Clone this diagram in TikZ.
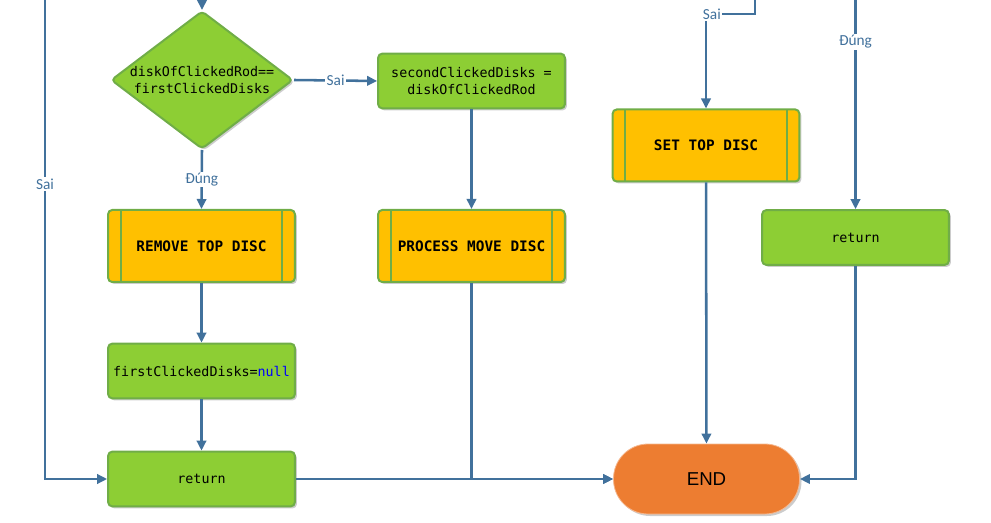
\documentclass[tikz,border=0pt]{standalone}
\usepackage{fontspec}
\setmonofont{DejaVu Sans Mono}
\newfontfamily\lblfont{Carlito}
\newfontfamily\termfont{Liberation Sans}
\usepackage{tikz}
\usetikzlibrary{shapes.geometric}
\usetikzlibrary{shadows}
\usetikzlibrary{arrows.meta}
\definecolor{boxgreen}{RGB}{141,206,52}
\definecolor{edgegreen}{RGB}{112,173,71}
\definecolor{subyellow}{RGB}{255,192,0}
\definecolor{endorange}{RGB}{237,125,49}
\definecolor{flowblue}{RGB}{65,113,156}
\definecolor{nullblue}{RGB}{0,0,255}

\tikzset{
  softshadow/.style={drop shadow={shadow xshift=1.5pt, shadow yshift=-1.5pt, opacity=0.2, fill=black}},
  box/.style={draw=edgegreen, line width=1.5pt, fill=boxgreen, rounded corners=3pt,
    minimum width=140pt, minimum height=41pt, align=center, softshadow,
    font=\ttfamily\fontsize{10}{12.5}\selectfont},
  subproc/.style={box, fill=subyellow, minimum height=54pt,
    font=\ttfamily\bfseries\fontsize{10.8}{13}\selectfont,
    path picture={
      \draw[edgegreen, line width=1.5pt]
        ([xshift=9.5pt]path picture bounding box.north west) -- ([xshift=9.5pt]path picture bounding box.south west)
        ([xshift=-9.5pt]path picture bounding box.north east) -- ([xshift=-9.5pt]path picture bounding box.south east);
    }},
  decision/.style={diamond, aspect=1.32, draw=edgegreen, line width=1.5pt, fill=boxgreen,
    rounded corners=3pt, inner sep=0pt, minimum width=136.5pt, minimum height=103.5pt,
    align=center, softshadow, font=\ttfamily\fontsize{10}{12.5}\selectfont},
  terminal/.style={draw=endorange!55!white, line width=0.6pt, fill=endorange,
    rounded corners=26pt, minimum width=139.5pt, minimum height=52.5pt,
    softshadow, font=\termfont\fontsize{14}{16}\selectfont},
  flow/.style={draw=flowblue, line width=1.9pt, -{Triangle[length=7.5pt,width=7pt]}},
  lbl/.style={fill=white, text=flowblue, inner sep=1pt, font=\lblfont\fontsize{11.5}{13}\selectfont},
}

\begin{document}
\begin{tikzpicture}[x=0.75pt, y=-0.75pt]
  \useasboundingbox (0,0) rectangle (991,523);

  % nodes
  \node[decision] (cmp) at (202,80) {diskOfClickedRod==\\firstClickedDisks};
  \node[box] (second) at (471.5,81) {secondClickedDisks =\\diskOfClickedRod};
  \node[subproc] (remove) at (201.5,246) {REMOVE TOP DISC};
  \node[box] (nullify) at (201.5,371) {firstClickedDisks=\textcolor{nullblue}{null}};
  \node[box] (retl) at (201.5,479) {return};
  \node[subproc] (procmove) at (471.5,246) {PROCESS MOVE DISC};
  \node[subproc] (settop) at (706,145.5) {SET TOP DISC};
  \node[box] (retr) at (855.5,237.5) {return};
  \node[terminal] (end) at (706.5,479) {END};

  % incoming ends
  \coordinate (inl) at (45,0);
  \coordinate (inc) at (202,0);
  \coordinate (inr) at (755,0);
  \coordinate (topbend) at (755,14);
  \coordinate (ins) at (855.5,0);

  % connectors
  \draw[flow] (inl) |- (retl.west) node[lbl, pos=0.192] {Sai};
  \draw[flow] (inc) -- (cmp.north);
  \draw[flow] (cmp.east) -- (second.west) node[lbl, midway] {Sai};
  \draw[flow] (cmp.south) -- (remove.north) node[lbl, midway] {Đúng};
  \draw[flow] (remove) -- (nullify);
  \draw[flow] (nullify) -- (retl);
  \draw[flow] (retl) -- (end);
  \draw[flow] (second) -- (procmove);
  \draw[flow] (procmove.south) |- (end.west);
  \draw[flow] (inr) -- (topbend) -| (settop.north) node[lbl, pos=0.44] {Sai};
  \draw[flow] (settop) -- (end);
  \draw[flow] (ins) -- (retr.north) node[lbl, pos=0.2] {Đúng};
  \draw[flow] (retr.south) |- (end.east);
\end{tikzpicture}
\end{document}
